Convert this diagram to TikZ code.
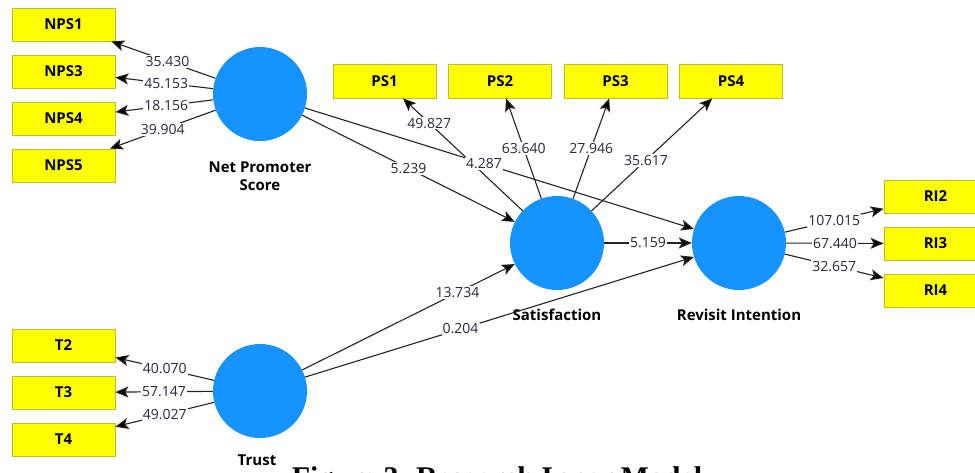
\documentclass[tikz,border=0pt]{standalone}
\usepackage{fontspec}
\setmainfont{Open Sans}
\newfontfamily\capfont{Liberation Serif}
\usetikzlibrary{arrows.meta}

\definecolor{lvblue}{RGB}{22,147,255}
\definecolor{indyellow}{RGB}{255,255,0}
\definecolor{indborder}{RGB}{190,190,40}
\definecolor{pathgray}{RGB}{35,35,35}
\definecolor{coefcol}{RGB}{40,40,60}

\tikzset{
  indicator/.style={draw=indborder, fill=indyellow, line width=0.8pt,
    minimum width=103pt, minimum height=33pt, inner sep=0pt,
    font=\fontsize{15}{15}\selectfont\bfseries},
  latent/.style={circle, fill=lvblue, draw=none, minimum size=94pt, inner sep=0pt},
  lvname/.style={font=\fontsize{15}{18}\selectfont\bfseries, align=center, inner sep=0pt},
  path arrow/.style={draw=pathgray, line width=1.1pt,
    -{Stealth[length=13pt, width=11pt, inset=3pt, fill=black]}},
  coef/.style={fill=white, inner sep=1.2pt, text=coefcol,
    font=\fontsize{14}{14}\selectfont}
}

\begin{document}
\begin{tikzpicture}[x=1pt, y=-1pt]
\useasboundingbox (0,0) rectangle (975,472);
\clip (0,0) rectangle (975,472);

% latent variables
\node[latent] (nps)   at (260,94)  {};
\node[latent] (sat)   at (557,243) {};
\node[latent] (ri)    at (739,243) {};
\node[latent] (trust) at (260,391) {};

\node[lvname] (npsname)   at (260,176) {Net Promoter\\Score};
\node[lvname] (satname)   at (557,315) {Satisfaction};
\node[lvname] (riname)    at (739,315) {Revisit Intention};
\node[lvname, anchor=north] (trustname) at (257,455) {Trust};

% indicators of Net Promoter Score
\node[indicator] (nps1) at (63.5,24.5)  {NPS1};
\node[indicator] (nps3) at (63.5,71.5)  {NPS3};
\node[indicator] (nps4) at (63.5,118.5) {NPS4};
\node[indicator] (nps5) at (63.5,165.5) {NPS5};

% indicators of Satisfaction
\node[indicator, minimum height=34pt] (ps1) at (384.5,81) {PS1};
\node[indicator, minimum height=34pt] (ps2) at (500,81)   {PS2};
\node[indicator, minimum height=34pt] (ps3) at (615.5,81) {PS3};
\node[indicator, minimum height=34pt] (ps4) at (731,81)   {PS4};

% indicators of Revisit Intention
\node[indicator] (ri2) at (935.5,196.5) {RI2};
\node[indicator] (ri3) at (935.5,243.5) {RI3};
\node[indicator] (ri4) at (935.5,290.5) {RI4};

% indicators of Trust
\node[indicator] (t2) at (63.5,345.5) {T2};
\node[indicator] (t3) at (63.5,392.5) {T3};
\node[indicator] (t4) at (63.5,439.5) {T4};

% outer loadings
\draw[path arrow] (nps) -- node[coef, pos=0.46] {35.430} (nps1);
\draw[path arrow] (nps) -- node[coef, pos=0.48] {45.153} (nps3);
\draw[path arrow] (nps) -- node[coef, pos=0.48] {18.156} (nps4);
\draw[path arrow] (nps) -- node[coef, pos=0.5]  {39.904} (nps5);

\draw[path arrow] (sat) -- node[coef, pos=0.78] {49.827} (ps1);
\draw[path arrow] (sat) -- node[coef, pos=0.5]  {63.640} (ps2);
\draw[path arrow] (sat) -- node[coef, pos=0.5]  {27.946} (ps3);
\draw[path arrow] (sat) -- node[coef, pos=0.45] {35.617} (ps4);

\draw[path arrow] (ri) -- node[coef, pos=0.5] {107.015} (ri2);
\draw[path arrow] (ri) -- node[coef, pos=0.5] {67.440}  (ri3);
\draw[path arrow] (ri) -- node[coef, pos=0.5] {32.657}  (ri4);

\draw[path arrow] (trust) -- node[coef, pos=0.5] {40.070} (t2);
\draw[path arrow] (trust) -- node[coef, pos=0.5] {57.147} (t3);
\draw[path arrow] (trust) -- node[coef, pos=0.5] {49.027} (t4);

% inner model paths
\draw[path arrow] (nps) -- node[coef, pos=0.5]  {5.239}  (sat);
\draw[path arrow] (nps) -- node[coef, pos=0.46] {4.287}  (ri);
\draw[path arrow] (sat) -- node[coef, pos=0.5]  {5.159}  (ri);
\draw[path arrow] (trust) -- node[coef, pos=0.73] {13.734} (sat);
\draw[path arrow] (trust) -- node[coef, pos=0.40] {0.204}  (ri);

% caption (runs past the lower edge)
\node[anchor=base, inner sep=0pt, font=\capfont\fontsize{30}{30}\selectfont\bfseries]
  (caption) at (497,487) {Figure 3. Research Inner Model};
\end{tikzpicture}
\end{document}
